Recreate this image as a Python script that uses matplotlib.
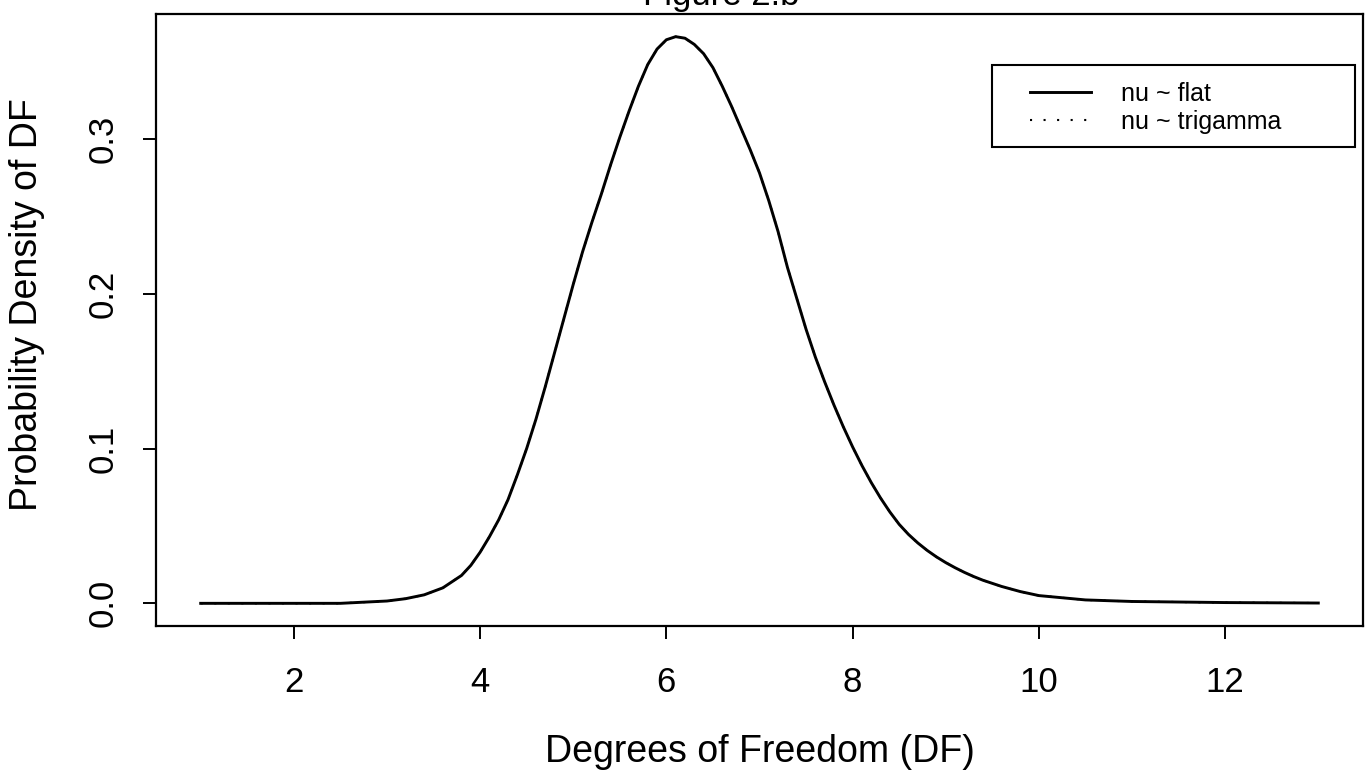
# %%
import numpy as np
import matplotlib
matplotlib.use('Agg')
import matplotlib.pyplot as plt
from matplotlib.patches import Rectangle


########## Data ##########
DF_grid = [1.0, 2.0, 2.5, 3.0, 3.2, 3.4, 3.6, 3.8, 3.9, 4.0, 4.1, 4.2, 4.3,
           4.4, 4.5, 4.6, 4.7, 4.8, 4.9, 5.0, 5.1, 5.2, 5.3, 5.4, 5.5, 5.6,
           5.7, 5.8, 5.9, 6.0, 6.1, 6.2, 6.3, 6.4, 6.5, 6.6, 6.7, 6.8, 6.9,
           7.0, 7.1, 7.2, 7.3, 7.4, 7.5, 7.6, 7.7, 7.8, 7.9, 8.0, 8.1, 8.2,
           8.3, 8.4, 8.5, 8.6, 8.7, 8.8, 8.9, 9.0, 9.1, 9.2, 9.3, 9.4, 9.6,
           9.8, 10.0, 10.5, 11.0, 12.0, 13.0]

Dens_flat = [0.0, 0.0, 0.0, 0.0015, 0.003, 0.0055, 0.010, 0.018, 0.0245,
             0.033, 0.043, 0.054, 0.067, 0.083, 0.100, 0.119, 0.140, 0.162,
             0.184, 0.206, 0.227, 0.246, 0.264, 0.283, 0.301, 0.318, 0.334,
             0.348, 0.358, 0.364, 0.366, 0.365, 0.361, 0.355, 0.346, 0.334,
             0.321, 0.307, 0.293, 0.278, 0.260, 0.240, 0.217, 0.197, 0.177,
             0.159, 0.143, 0.128, 0.114, 0.101, 0.089, 0.078, 0.068, 0.059,
             0.051, 0.0445, 0.039, 0.0342, 0.030, 0.0263, 0.023, 0.020,
             0.0173, 0.0149, 0.0109, 0.0076, 0.005, 0.0022, 0.0012, 0.0005,
             0.0002]

# trigamma prior curve lies on top of the flat one in the picture
Dens_trigamma = [0.0, 0.0, 0.0, 0.0015, 0.003, 0.0055, 0.010, 0.018, 0.0245,
                 0.033, 0.043, 0.054, 0.067, 0.083, 0.100, 0.119, 0.140, 0.162,
                 0.184, 0.206, 0.227, 0.246, 0.264, 0.283, 0.301, 0.318, 0.334,
                 0.348, 0.358, 0.364, 0.366, 0.365, 0.361, 0.355, 0.346, 0.334,
                 0.321, 0.307, 0.293, 0.278, 0.260, 0.240, 0.217, 0.197, 0.177,
                 0.159, 0.143, 0.128, 0.114, 0.101, 0.089, 0.078, 0.068, 0.059,
                 0.051, 0.0445, 0.039, 0.0342, 0.030, 0.0263, 0.023, 0.020,
                 0.0173, 0.0149, 0.0109, 0.0076, 0.005, 0.0022, 0.0012, 0.0005,
                 0.0002]

Legend_names = ['nu ~ flat', 'nu ~ trigamma']
X_ticks = [2, 4, 6, 8, 10, 12]
Y_ticks = [0.0, 0.1, 0.2, 0.3]


########## Style ##########
plt.rcParams['font.family'] = ['Liberation Sans', 'DejaVu Sans']
W, H = 1366, 782

fig = plt.figure(figsize=(W/100, H/100), dpi=100)
ax = fig.add_axes([156/W, 1 - 626/H, (1363-156)/W, (626-14)/H])

# R style axis ranges (4% padding)
x_rng = max(DF_grid) - min(DF_grid)
y_rng = max(Dens_flat) - min(Dens_flat)
ax.set_xlim(min(DF_grid) - 0.04*x_rng, max(DF_grid) + 0.04*x_rng)
ax.set_ylim(min(Dens_flat) - 0.04*y_rng, max(Dens_flat) + 0.04*y_rng)


########## Curves ##########
line_flat, = ax.plot(DF_grid, Dens_flat, color='black', lw=2.1,
                     solid_joinstyle='round')
line_tri,  = ax.plot(DF_grid, Dens_trigamma, color='black', lw=1.5,
                     linestyle=(0, (1, 5.5)))


########## Axes ##########
for s in ax.spines.values():
    s.set_linewidth(1.6)

ax.set_xticks(X_ticks)
ax.set_xticklabels([str(t) for t in X_ticks])
ax.set_yticks(Y_ticks)
ax.set_yticklabels(['%.1f' % t for t in Y_ticks], rotation=90, va='center')
ax.tick_params(axis='both', length=9.5, width=1.4, labelsize=25)
ax.tick_params(axis='x', pad=19)
ax.tick_params(axis='y', pad=17)

ax.set_xlabel('Degrees of Freedom (DF)', fontsize=27, va='center')
ax.xaxis.set_label_coords(0.5, (626 - 752) / 612)
ax.set_ylabel('Probability Density of DF', fontsize=27, va='center')
ax.yaxis.set_label_coords((27 - 156) / 1207, (626 - 305) / 612)

# title is mostly cut off at the top of the scan
fig.text(721/W, 1 - 5/H, 'Figure 2.b', ha='center', va='baseline', fontsize=25)


########## Legend ##########
fig.patches.append(Rectangle((992/W, 1 - 147/H), 363/W, 82/H, transform=fig.transFigure,
                             fill=False, edgecolor='black', lw=1.5))
ax.legend([line_flat, line_tri], Legend_names, frameon=False, fontsize=18,
          loc='upper left', bbox_to_anchor=(1030/W, 1 - 82/H),
          bbox_transform=fig.transFigure, borderpad=0, borderaxespad=0,
          handlelength=2.45, handletextpad=1.2, labelspacing=0.15)

fig.savefig('out.png', dpi=100)
